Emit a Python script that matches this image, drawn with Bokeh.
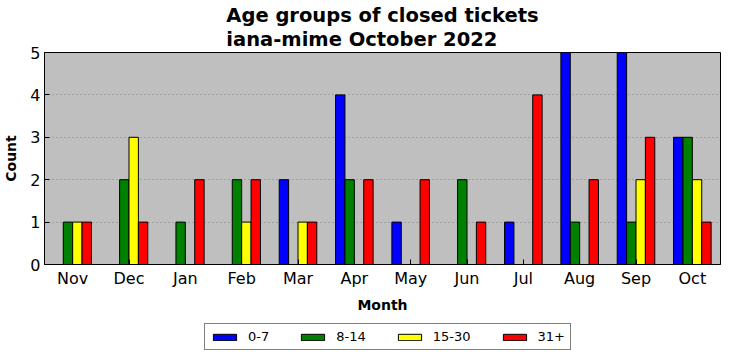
from bokeh.plotting import figure
from bokeh.layouts import column
from bokeh.models import (ColumnDataSource, FixedTicker, Legend, LegendItem, Range1d)
from bokeh.transform import dodge
from bokeh.embed import file_html
from bokeh.resources import INLINE

months = ["Nov", "Dec", "Jan", "Feb", "Mar", "Apr", "May", "Jun", "Jul", "Aug", "Sep", "Oct"]
age_0_7 = [0, 0, 0, 0, 2, 4, 1, 0, 1, 5, 5, 3]
age_8_14 = [1, 2, 1, 2, 0, 2, 0, 2, 0, 1, 1, 3]
age_15_30 = [1, 3, 0, 1, 1, 0, 0, 0, 0, 0, 2, 2]
age_31p = [1, 1, 2, 2, 1, 2, 2, 1, 4, 2, 3, 1]
series_names = ["0-7", "8-14", "15-30", "31+"]
colors = ["#0000ff", "#008000", "#ffff00", "#ff0000"]
y_ticks = [0, 1, 2, 3, 4, 5]

xs = [i + 0.5 for i in range(len(months))]
src = ColumnDataSource(dict(x=xs, a=age_0_7, b=age_8_14, c=age_15_30, d=age_31p))

FONT = "DejaVu Sans"
p = figure(frame_width=676, frame_height=212, output_backend="svg", toolbar_location=None,
           x_range=Range1d(0, len(months)), y_range=Range1d(0, 5),
           min_border_left=38, min_border_right=2, min_border_top=7, min_border_bottom=4)
p.title.text = "Age groups of closed tickets\niana-mime October 2022"
p.title.align = "center"
p.title.text_font = FONT
p.title.text_font_size = "19.5px"
p.title.text_font_style = "bold"
p.title.text_color = "black"
p.title.text_line_height = 1.05
p.title.standoff = 3

p.background_fill_color = "#bfbfbf"
p.border_fill_color = "white"
p.outline_line_color = "black"
p.outline_line_width = 1

w = 1 / 6
offsets = [-0.25, -0.25 + w, 0.25 - w, 0.25]
cols = ["a", "b", "c", "d"]
for col, off, color in zip(cols, offsets, colors):
    p.vbar(x=dodge("x", off), top=col, width=w, bottom=0, source=src,
           fill_color=color, line_color="black", line_width=1)

p.xaxis.ticker = FixedTicker(ticks=xs)
p.xaxis.major_label_overrides = {x: m for x, m in zip(xs, months)}
p.yaxis.ticker = FixedTicker(ticks=y_ticks)
for ax in [p.xaxis[0], p.yaxis[0]]:
    ax.major_label_text_font = FONT
    ax.major_label_text_font_size = "16px"
    ax.major_label_text_color = "black"
    ax.axis_label_text_font = FONT
    ax.axis_label_text_font_size = "14px"
    ax.axis_label_text_font_style = "bold"
    ax.axis_label_text_color = "black"
    ax.major_tick_in = 5
    ax.major_tick_out = 0
    ax.minor_tick_line_color = None
    ax.axis_line_color = "black"
p.xaxis.axis_label = "Month"
p.yaxis.axis_label = "Count"
p.xaxis.axis_label_standoff = 6
p.yaxis.axis_label_standoff = 8
p.xaxis.major_label_standoff = 4
p.yaxis.major_label_standoff = 4

p.xgrid.grid_line_color = None
p.ygrid.ticker = FixedTicker(ticks=y_ticks)
p.ygrid.grid_line_color = "#808080"
p.ygrid.grid_line_dash = "1 3"
p.ygrid.grid_line_width = 1

# legend in its own strip below the chart (hidden copies of the bars supply the swatches)
lf = figure(width=716, height=46, output_backend="svg", toolbar_location=None,
            x_range=Range1d(0, 1), y_range=Range1d(0, 1), x_axis_type=None, y_axis_type=None,
            min_border=0)
lf.outline_line_color = None
lf.xgrid.grid_line_color = None
lf.ygrid.grid_line_color = None
leg_renderers = [lf.vbar(x=dodge("x", off), top=col, width=w, bottom=0, source=src,
                         fill_color=color, line_color="black", line_width=1, visible=False)
                 for col, off, color in zip(cols, offsets, colors)]
legend = Legend(items=[LegendItem(label=n, renderers=[r]) for n, r in zip(series_names, leg_renderers)],
                orientation="horizontal", location=(160, 11))
legend.border_line_color = "black"
legend.border_line_width = 1
legend.label_text_font = FONT
legend.label_text_font_size = "13px"
legend.label_text_color = "black"
legend.glyph_width = 29
legend.glyph_height = 8
legend.spacing = 29
legend.padding = 5
legend.margin = 0
legend.label_standoff = 9
legend.inactive_fill_alpha = 0
legend.click_policy = "none"
lf.add_layout(legend, "center")

layout = column(p, lf, spacing=0)
open("out.html", "w").write(file_html(layout, INLINE))
